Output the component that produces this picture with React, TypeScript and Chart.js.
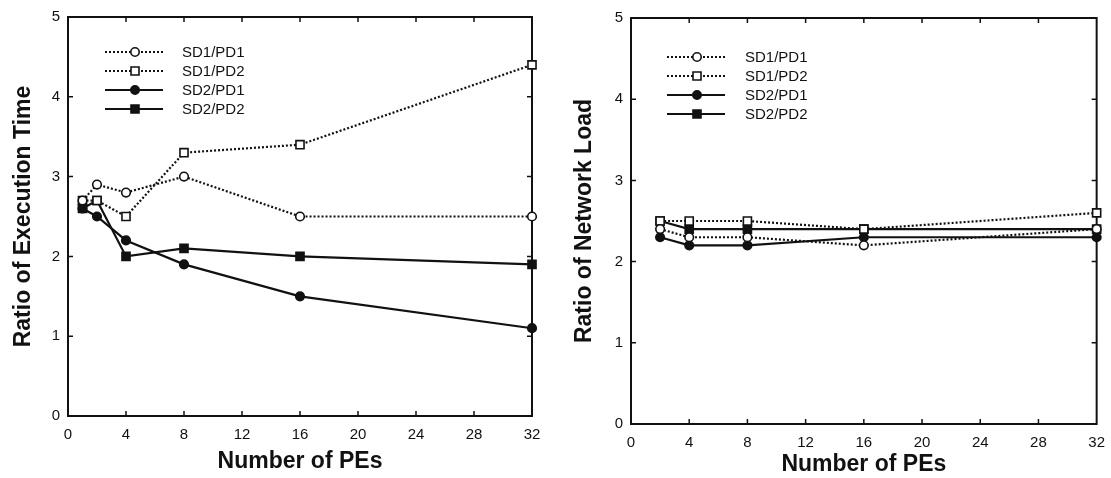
import React, { useEffect, useRef } from 'react';
import { Chart, registerables } from 'chart.js';

Chart.register(...registerables);

// ---------- data ----------
const seriesLabels = ['SD1/PD1', 'SD1/PD2', 'SD2/PD1', 'SD2/PD2'];

const pesExec = [1, 2, 4, 8, 16, 32];
const execSD1PD1 = [2.7, 2.9, 2.8, 3.0, 2.5, 2.5];
const execSD1PD2 = [2.7, 2.7, 2.5, 3.3, 3.4, 4.4];
const execSD2PD1 = [2.6, 2.5, 2.2, 1.9, 1.5, 1.1];
const execSD2PD2 = [2.6, 2.7, 2.0, 2.1, 2.0, 1.9];

const pesNet = [2, 4, 8, 16, 32];
const netSD1PD1 = [2.4, 2.3, 2.3, 2.2, 2.4];
const netSD1PD2 = [2.5, 2.5, 2.5, 2.4, 2.6];
const netSD2PD1 = [2.3, 2.2, 2.2, 2.3, 2.3];
const netSD2PD2 = [2.5, 2.4, 2.4, 2.4, 2.4];

const xAxisTitle = 'Number of PEs';
const execTitle = 'Ratio of Execution Time';
const netTitle = 'Ratio of Network Load';

// ---------- styles ----------
const FONT = '"Liberation Sans", Arial, Helvetica, sans-serif';
const seriesStyles = [
  { dash: [2, 2], point: 'circle', fill: '#ffffff' },
  { dash: [2, 2], point: 'rect', fill: '#ffffff' },
  { dash: [], point: 'circle', fill: '#111111' },
  { dash: [], point: 'rect', fill: '#111111' },
];

function buildDatasets(xs: number[], series: number[][]) {
  return series.map((ys, si) => {
    const st = seriesStyles[si];
    return {
      label: seriesLabels[si],
      data: xs.map((x, i) => ({ x, y: ys[i] })),
      borderColor: '#111111',
      borderWidth: 2.2,
      borderDash: st.dash,
      pointStyle: st.point,
      pointRadius: st.point === 'rect' ? 5.7 : 4.3,
      pointBackgroundColor: st.fill,
      pointBorderColor: '#111111',
      pointBorderWidth: 1.6,
      tension: 0,
      clip: false,
      fill: false,
    };
  });
}

function drawMarker(ctx: CanvasRenderingContext2D, style: string, x: number, y: number, fill: string) {
  ctx.save();
  ctx.beginPath();
  if (style === 'rect') {
    ctx.rect(x - 4, y - 4, 8, 8);
  } else {
    ctx.arc(x, y, 4.2, 0, Math.PI * 2);
  }
  ctx.fillStyle = fill;
  ctx.fill();
  ctx.lineWidth = 1.6;
  ctx.strokeStyle = '#111111';
  ctx.setLineDash([]);
  ctx.stroke();
  ctx.restore();
}

const decorPlugin = {
  id: 'decor',
  beforeDatasetsDraw(chart: any) {
    const { ctx, chartArea } = chart;
    const { left, right, top, bottom } = chartArea;
    ctx.save();
    ctx.strokeStyle = '#111111';
    ctx.lineWidth = 2;
    ctx.setLineDash([]);
    ctx.strokeRect(left, top, right - left, bottom - top);
    const tl = 5;
    ctx.lineWidth = 1.5;
    const xs = chart.scales.x;
    xs.ticks.forEach((t: any) => {
      const px = xs.getPixelForValue(t.value);
      if (px <= left + 1 || px >= right - 1) return;
      ctx.beginPath();
      ctx.moveTo(px, bottom);
      ctx.lineTo(px, bottom - tl);
      ctx.moveTo(px, top);
      ctx.lineTo(px, top + tl);
      ctx.stroke();
    });
    const ys = chart.scales.y;
    ys.ticks.forEach((t: any) => {
      const py = ys.getPixelForValue(t.value);
      if (py <= top + 1 || py >= bottom - 1) return;
      ctx.beginPath();
      ctx.moveTo(left, py);
      ctx.lineTo(left + tl, py);
      ctx.moveTo(right, py);
      ctx.lineTo(right - tl, py);
      ctx.stroke();
    });
    ctx.restore();
  },
  afterDraw(chart: any) {
    const lg = chart.options.plugins.decor;
    if (!lg) return;
    const { ctx } = chart;
    chart.data.datasets.forEach((ds: any, i: number) => {
      const y = lg.rows[i];
      const st = seriesStyles[i];
      ctx.save();
      ctx.strokeStyle = '#111111';
      ctx.lineWidth = 2.2;
      ctx.setLineDash(st.dash);
      ctx.beginPath();
      ctx.moveTo(lg.x1, y);
      ctx.lineTo(lg.x2, y);
      ctx.stroke();
      ctx.restore();
      drawMarker(ctx, st.point, lg.xm, y, st.fill);
      ctx.save();
      ctx.fillStyle = '#111111';
      ctx.font = `15px ${FONT}`;
      ctx.textBaseline = 'middle';
      ctx.textAlign = 'left';
      ctx.fillText(ds.label, lg.tx, y + 1);
      ctx.restore();
    });
  },
};

interface PanelProps {
  xs: number[];
  series: number[][];
  yTitle: string;
  left: number;
  width: number;
  pad: { left: number; top: number; right: number; bottom: number };
  yWidth: number;
  xHeight: number;
  xTickPad: number;
  xTitlePadBottom: number;
  yTitlePadTop: number;
  legend: { x1: number; x2: number; xm: number; tx: number; rows: number[] };
}

function Panel(p: PanelProps) {
  const ref = useRef<HTMLCanvasElement>(null);
  useEffect(() => {
    if (!ref.current) return;
    const chart = new Chart(ref.current, {
      type: 'line',
      data: { datasets: buildDatasets(p.xs, p.series) as any },
      options: {
        responsive: false,
        animation: false,
        devicePixelRatio: 1,
        layout: { padding: p.pad },
        plugins: {
          legend: { display: false },
          tooltip: { enabled: false },
          decor: p.legend,
        } as any,
        scales: {
          x: {
            type: 'linear',
            min: 0,
            max: 32,
            grid: { display: false, drawTicks: false },
            border: { display: false },
            ticks: {
              stepSize: 4,
              color: '#111111',
              padding: p.xTickPad,
              font: { family: FONT, size: 15 },
              maxRotation: 0,
            },
            title: {
              display: true,
              text: xAxisTitle,
              color: '#111111',
              font: { family: FONT, size: 23, weight: 'bold' },
              padding: { top: 0, bottom: p.xTitlePadBottom },
            },
            afterFit: (s: any) => {
              s.height = p.xHeight;
            },
          },
          y: {
            type: 'linear',
            min: 0,
            max: 5,
            grid: { display: false, drawTicks: false },
            border: { display: false },
            ticks: {
              stepSize: 1,
              color: '#111111',
              padding: 8,
              font: { family: FONT, size: 15 },
            },
            title: {
              display: true,
              text: p.yTitle,
              color: '#111111',
              font: { family: FONT, size: 23, weight: 'bold' },
              padding: { top: p.yTitlePadTop, bottom: 0 },
            },
            afterFit: (s: any) => {
              s.width = p.yWidth;
            },
          },
        },
      },
      plugins: [decorPlugin as any],
    });
    return () => chart.destroy();
  }, []);
  return (
    <canvas
      ref={ref}
      width={p.width}
      height={478}
      style={{ position: 'absolute', left: p.left, top: 0, width: p.width, height: 478, display: 'block' }}
    />
  );
}

export default function App() {
  return (
    <div
      style={{
        position: 'fixed',
        left: 0,
        top: 0,
        width: 1111,
        height: 478,
        background: '#ffffff',
        overflow: 'hidden',
      }}
    >
      <Panel
        xs={pesExec}
        series={[execSD1PD1, execSD1PD2, execSD2PD1, execSD2PD2]}
        yTitle={execTitle}
        left={0}
        width={555}
        pad={{ left: 0, top: 12, right: 23, bottom: 0 }}
        yWidth={68}
        xHeight={62}
        xTickPad={10}
        xTitlePadBottom={3}
        yTitlePadTop={10}
        legend={{ x1: 105, x2: 163, xm: 135, tx: 182, rows: [52, 71, 90, 109] }}
      />
      <Panel
        xs={pesNet}
        series={[netSD1PD1, netSD1PD2, netSD2PD1, netSD2PD2]}
        yTitle={netTitle}
        left={555}
        width={560}
        pad={{ left: 0, top: 18, right: 11, bottom: 0 }}
        yWidth={76}
        xHeight={54}
        xTickPad={10}
        xTitlePadBottom={0}
        yTitlePadTop={16}
        legend={{ x1: 112, x2: 170, xm: 142, tx: 190, rows: [57, 76, 95, 114] }}
      />
    </div>
  );
}
